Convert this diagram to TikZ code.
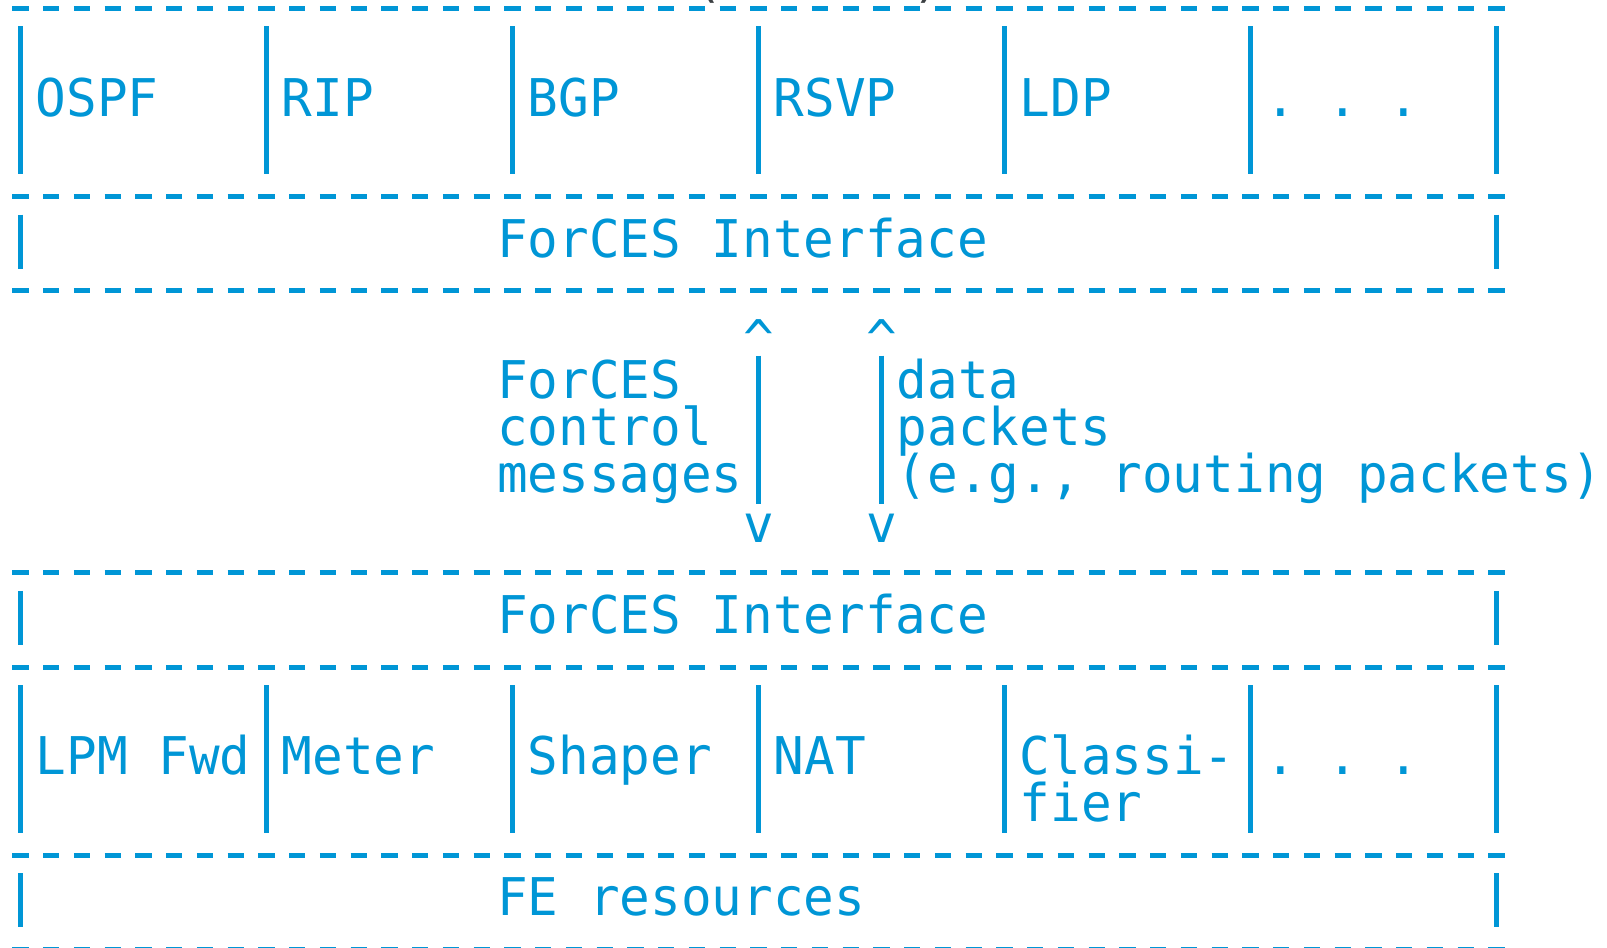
\documentclass[tikz,border=0pt]{standalone}
\usepackage{fontspec}
\newfontfamily\diagfont[FakeStretch=0.98]{DejaVu Sans Mono}
\definecolor{ink}{RGB}{0,150,214}
\definecolor{shade}{RGB}{60,64,67}
\frenchspacing
\begin{document}
\begin{tikzpicture}[x=1pt,y=-1pt,
  % character grid: column left edge, column centre, row centre, row baseline
  declare function={cl(\i)=5.125+30.75*\i; cc(\i)=20.5+30.75*\i;
                    ry(\r)=8.3+47.05*\r; by(\r)=21.9+47.05*\r;},
  rule/.style={draw=ink,line width=5pt,line cap=butt,dash pattern=on 16.3pt off 14.45pt},
  bar/.style={draw=ink,line width=5pt,line cap=butt},
  txt/.style={anchor=base west,inner sep=0pt,outer sep=0pt,text=ink,
              font=\diagfont\fontsize{52}{52}\selectfont},
  faint/.style={txt,text=shade},
]
\fill[white] (0,0) rectangle (1607,948);
\useasboundingbox (0,0) rectangle (1607,948);

% tails of the caption line above the frame
\node[faint] (capL) at ({cl(22)+11},{-4}) {(};
\node[faint] (capR) at ({cl(29)+16},{-4}) {)};

% horizontal dashed rules
\foreach \r in {0,4,6,12,14,18,20}
  \draw[rule] ({cc(0)-8.15},{ry(\r)}) -- ({cc(48)+8.15},{ry(\r)});

% vertical separators of the protocol and function rows
\foreach \c in {0,8,16,24,32,40,48} {
  \draw[bar] ({cc(\c)},{ry(1)-29}) -- ({cc(\c)},{ry(3)+25});
  \draw[bar] ({cc(\c)},{ry(15)-29}) -- ({cc(\c)},{ry(17)+25});
}
% side bars of the interface and resource rows
\foreach \r in {5,13,19}
  \foreach \c in {0,48}
    \draw[bar] ({cc(\c)},{ry(\r)-29}) -- ({cc(\c)},{ry(\r)+25});

% control element protocols
\node[txt] (ospf) at ({cl(1)},{by(2)}) {OSPF};
\node[txt] (rip)  at ({cl(9)},{by(2)}) {RIP};
\node[txt] (bgp)  at ({cl(17)},{by(2)}) {BGP};
\node[txt] (rsvp) at ({cl(25)},{by(2)}) {RSVP};
\node[txt] (ldp)  at ({cl(33)},{by(2)}) {LDP};
\node[txt] (moreA) at ({cl(41)},{by(2)}) {. . .};

\node[txt] (ceif) at ({cl(16)},{by(5)}) {ForCES Interface};

% two-way channels between the interfaces
\node[txt] (upA) at ({cl(24)},{by(7)+6}) {\^{}};
\node[txt] (upB) at ({cl(28)},{by(7)+6}) {\^{}};
\coordinate (ctlTop) at ({cc(24)},{ry(8)-29});
\coordinate (ctlBot) at ({cc(24)},{ry(10)+25});
\coordinate (datTop) at ({cc(28)},{ry(8)-29});
\coordinate (datBot) at ({cc(28)},{ry(10)+25});
\draw[bar] (ctlTop) -- (ctlBot);
\draw[bar] (datTop) -- (datBot);
\node[txt] (dnA) at ({cl(24)},{by(11)+3}) {v};
\node[txt] (dnB) at ({cl(28)},{by(11)+3}) {v};

\node[txt] (ctl1) at ({cl(16)},{by(8)}) {ForCES};
\node[txt] (ctl2) at ({cl(16)},{by(9)}) {control};
\node[txt] (ctl3) at ({cl(16)},{by(10)}) {messages};
\node[txt] (dat1) at ({cl(29)},{by(8)}) {data};
\node[txt] (dat2) at ({cl(29)},{by(9)}) {packets};
\node[txt] (dat3) at ({cl(29)},{by(10)}) {(e.g., routing packets)};

\node[txt] (feif) at ({cl(16)},{by(13)}) {ForCES Interface};

% forwarding element functions
\node[txt] (lpm)    at ({cl(1)},{by(16)}) {LPM Fwd};
\node[txt] (meter)  at ({cl(9)},{by(16)}) {Meter};
\node[txt] (shaper) at ({cl(17)},{by(16)}) {Shaper};
\node[txt] (nat)    at ({cl(25)},{by(16)}) {NAT};
\node[txt] (cls1)   at ({cl(33)},{by(16)}) {Classi-};
\node[txt] (cls2)   at ({cl(33)},{by(17)}) {fier};
\node[txt] (moreB)  at ({cl(41)},{by(16)}) {. . .};

\node[txt] (feres) at ({cl(16)},{by(19)}) {FE resources};
\end{tikzpicture}
\end{document}
